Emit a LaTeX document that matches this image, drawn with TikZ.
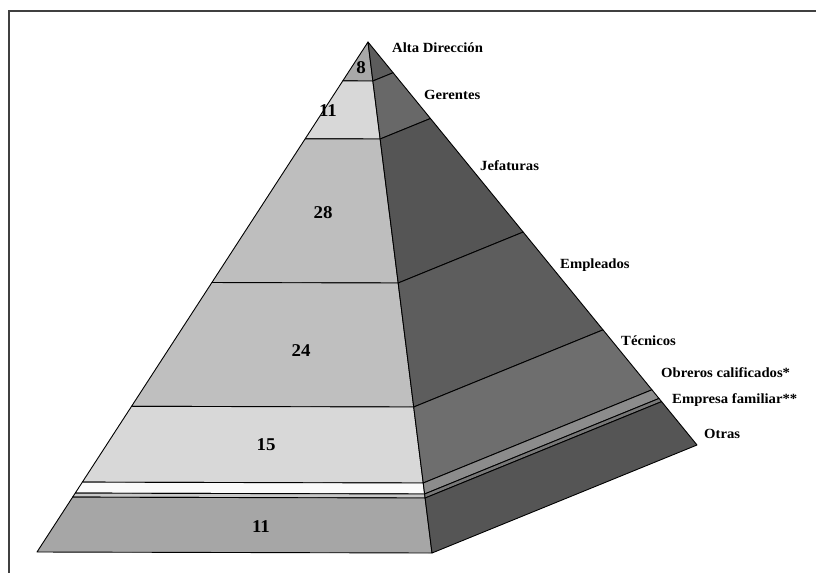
\documentclass[tikz,border=0pt]{standalone}
\usepackage{fontspec}
\setmainfont{Liberation Serif}
\newfontfamily\labfont[FakeStretch=1.05]{Liberation Serif Bold}
\usetikzlibrary{calc}
\definecolor{fA}{HTML}{A8A8A8}
\definecolor{fB}{HTML}{D8D8D8}
\definecolor{fC}{HTML}{BEBEBE}
\definecolor{fD}{HTML}{BFBFBF}
\definecolor{fE}{HTML}{D8D8D8}
\definecolor{fF}{HTML}{FAFAFA}
\definecolor{fG}{HTML}{C8C8C8}
\definecolor{fH}{HTML}{A6A6A6}
\definecolor{sA}{HTML}{5C5C5C}
\definecolor{sB}{HTML}{686868}
\definecolor{sC}{HTML}{555555}
\definecolor{sD}{HTML}{5D5D5D}
\definecolor{sE}{HTML}{6E6E6E}
\definecolor{sF}{HTML}{8C8C8C}
\definecolor{sG}{HTML}{787878}
\definecolor{sH}{HTML}{555555}
\tikzset{
  facet/.style={draw=black, line width=0.9pt, line join=round},
  lab/.style={anchor=west, inner sep=0pt, font=\labfont\fontsize{14}{15}\selectfont},
  num/.style={inner sep=0pt, font=\labfont\fontsize{18}{19}\selectfont},
  frameline/.style={draw=black!75, line width=2pt}
}
\begin{document}
\begin{tikzpicture}[x=1pt,y=-1pt]
\useasboundingbox (0,0) rectangle (816,573);
\fill[white] (0,0) rectangle (816,573);
% frame (top and left edges visible)
\coordinate (fr1) at (816,11);
\coordinate (fr2) at (9,11);
\coordinate (fr3) at (9,573);
\draw[frameline] (fr1) -- (fr2) -- (fr3);
% pyramid corners
\coordinate (A) at (368,42);
\coordinate (L) at (37,552);
\coordinate (R) at (432,553);
\coordinate (B) at (697,445);
% layers: t-start/t-end/front colour/side colour
\foreach \ta/\tb/\cf/\cs [count=\i] in {
  0/0.0763/fA/sA,
  0.0763/0.1898/fB/sB,
  0.1898/0.4716/fC/sC,
  0.4716/0.7143/fD/sD,
  0.7143/0.8630/fE/sE,
  0.8630/0.8845/fF/sF,
  0.8845/0.8924/fG/sG,
  0.8924/1/fH/sH}{
  \draw[facet, fill=\cf] ($(A)!\ta!(L)$) -- ($(A)!\ta!(R)$) -- ($(A)!\tb!(R)$) -- ($(A)!\tb!(L)$) -- cycle;
  \draw[facet, fill=\cs] ($(A)!\ta!(R)$) -- ($(A)!\ta!(B)$) -- ($(A)!\tb!(B)$) -- ($(A)!\tb!(R)$) -- cycle;
}
% numbers
\node[num] (n1) at (361,68) {8};
\node[num] (n2) at (328,111) {11};
\node[num] (n3) at (323,213) {28};
\node[num] (n4) at (301,351) {24};
\node[num] (n5) at (266,445) {15};
\node[num] (n6) at (261,527) {11};
% labels
\node[lab] (l1) at (392,48) {Alta Dirección};
\node[lab] (l2) at (424,95) {Gerentes};
\node[lab] (l3) at (480,166) {Jefaturas};
\node[lab] (l4) at (560,265) {Empleados};
\node[lab] (l5) at (621,341) {Técnicos};
\node[lab] (l6) at (661,373) {Obreros calificados*};
\node[lab] (l7) at (672,400) {Empresa familiar**};
\node[lab] (l8) at (704,434) {Otras};
\end{tikzpicture}
\end{document}
